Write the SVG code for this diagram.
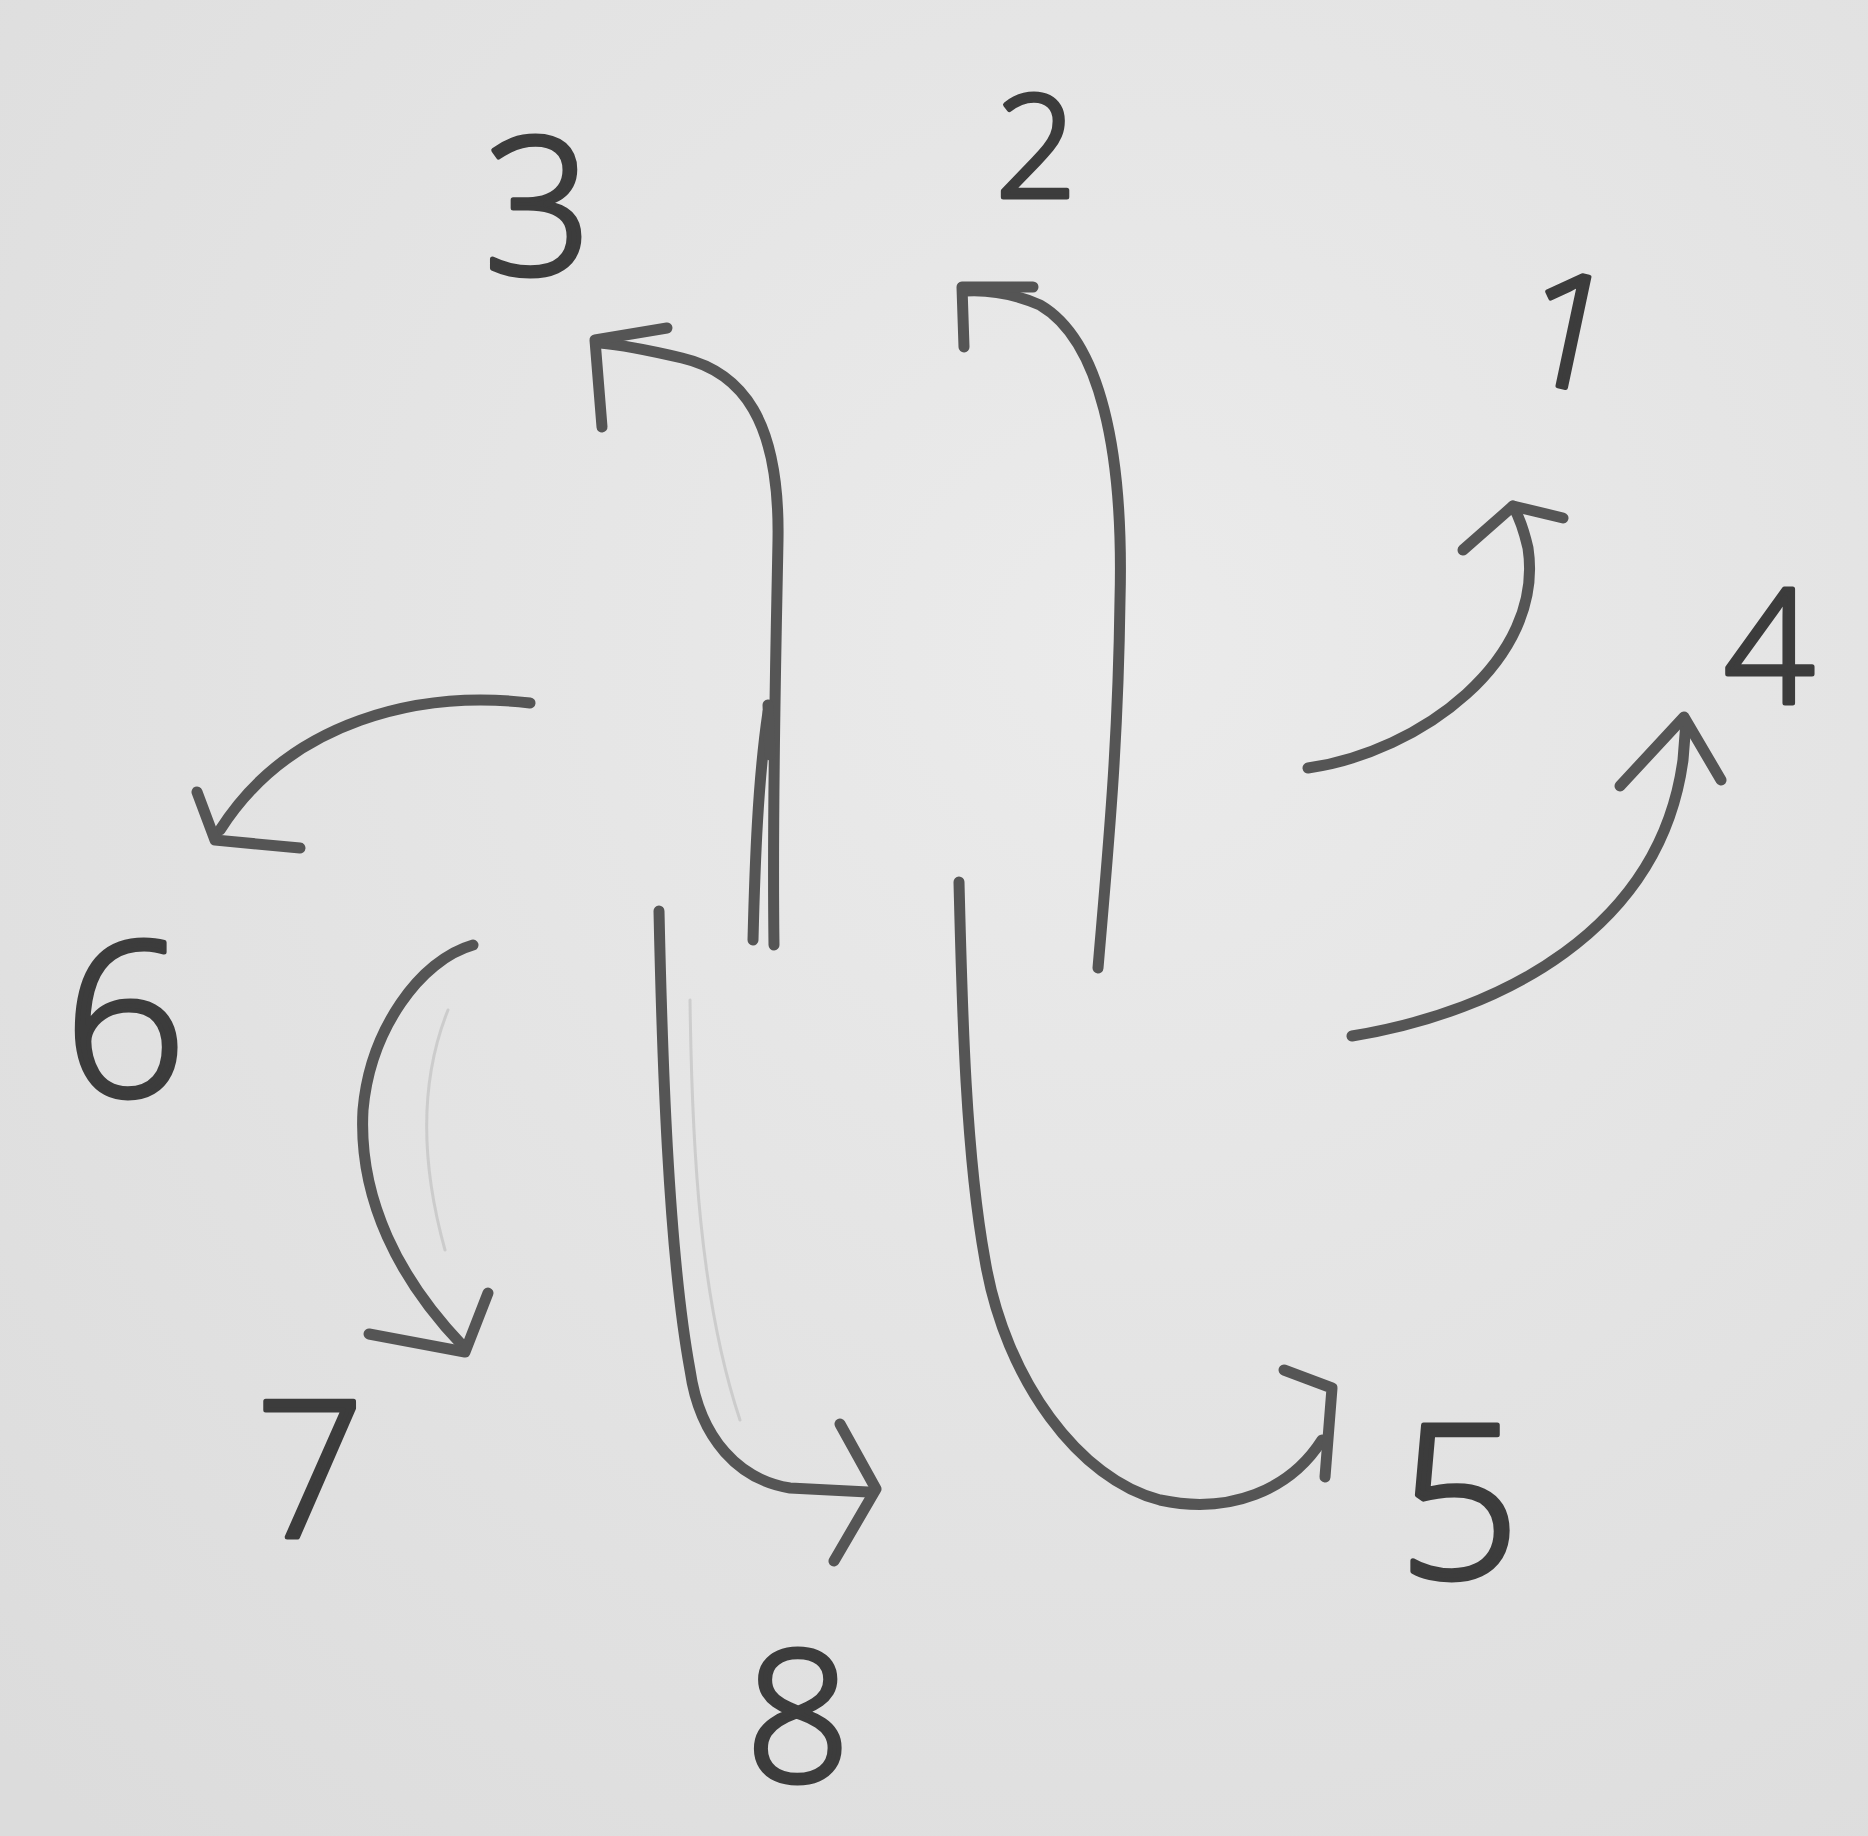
<svg xmlns="http://www.w3.org/2000/svg" width="1868" height="1836" viewBox="0 0 1868 1836">
<defs>
<radialGradient id="paper" cx="0.6" cy="0.35" r="0.85">
<stop offset="0" stop-color="#ebebeb"/>
<stop offset="1" stop-color="#dcdcdc"/>
</radialGradient>
<style>
.pen{fill:none;stroke:#555;stroke-width:11;stroke-linecap:round;stroke-linejoin:round}
.ghost{fill:none;stroke:#bdbdbd;stroke-width:3;stroke-linecap:round;opacity:0.6}
.lbl{font-family:"Open Sans","Liberation Sans",sans-serif;font-weight:300;fill:#3c3c3c;stroke:#3c3c3c;stroke-width:5;stroke-linejoin:round;text-anchor:middle}
</style>
</defs>
<rect width="1868" height="1836" fill="url(#paper)"/>
<g id="n3"><text class="lbl" x="538" y="274" font-size="190">3</text></g>
<g id="n2"><text class="lbl" x="1036" y="197" font-size="142">2</text></g>
<g id="n1"><text class="lbl" x="1570" y="387" font-size="158" transform="rotate(12 1570 330)">1</text></g>
<g id="n4"><text class="lbl" x="1769" y="703" font-size="158">4</text></g>
<g id="n5"><text class="lbl" x="1459" y="1578" font-size="215">5</text></g>
<g id="n6"><text class="lbl" x="125" y="1096" font-size="215">6</text></g>
<g id="n7"><text class="lbl" x="310" y="1537" font-size="190">7</text></g>
<g id="n8"><text class="lbl" x="798" y="1781" font-size="183">8</text></g>
<g id="connectors">
<path class="ghost" d="M448,1010 C420,1080 420,1160 445,1250"/>
<path class="ghost" d="M690,1000 C692,1150 700,1300 740,1420"/>
<path class="pen" d="M1308,768 C1420,752 1545,660 1528,548 Q1522,522 1513,506"/>
<path class="pen" d="M1463,550 L1513,506 L1563,518"/>
<path class="pen" d="M1352,1036 C1500,1012 1660,930 1683,760 L1686,722"/>
<path class="pen" d="M1620,786 L1684,717 L1721,780"/>
<path class="pen" d="M1098,968 C1108,850 1118,750 1120,600 C1124,450 1100,340 1040,305 C1010,292 985,290 966,291"/>
<path class="pen" d="M964,347 L962,287 L1033,287"/>
<path class="pen" d="M774,945 C772,800 776,650 778,540 C780,420 742,372 682,358 C652,351 625,345 600,343"/>
<path class="pen" d="M753,940 C755,860 758,780 768,712"/>
<path class="pen" stroke-width="16" d="M768,705 L770,755"/>
<path class="pen" d="M602,427 L595,340 L667,328"/>
<path class="pen" d="M959,882 C962,1000 965,1150 985,1260 C1005,1380 1080,1480 1160,1500 C1230,1515 1290,1490 1322,1440"/>
<path class="pen" d="M1284,1370 L1332,1388 L1325,1477"/>
<path class="pen" d="M659,911 C662,1050 668,1250 690,1370 C700,1440 740,1480 790,1488 L868,1492"/>
<path class="pen" d="M840,1424 L876,1489 L834,1561"/>
<path class="pen" d="M530,703 C420,690 290,720 220,830"/>
<path class="pen" d="M197,792 L215,840 L300,848"/>
<path class="pen" d="M473,945 C420,960 370,1030 363,1110 C358,1200 400,1280 462,1345"/>
<path class="pen" d="M369,1334 L465,1352 L488,1293"/>
</g>
</svg>
